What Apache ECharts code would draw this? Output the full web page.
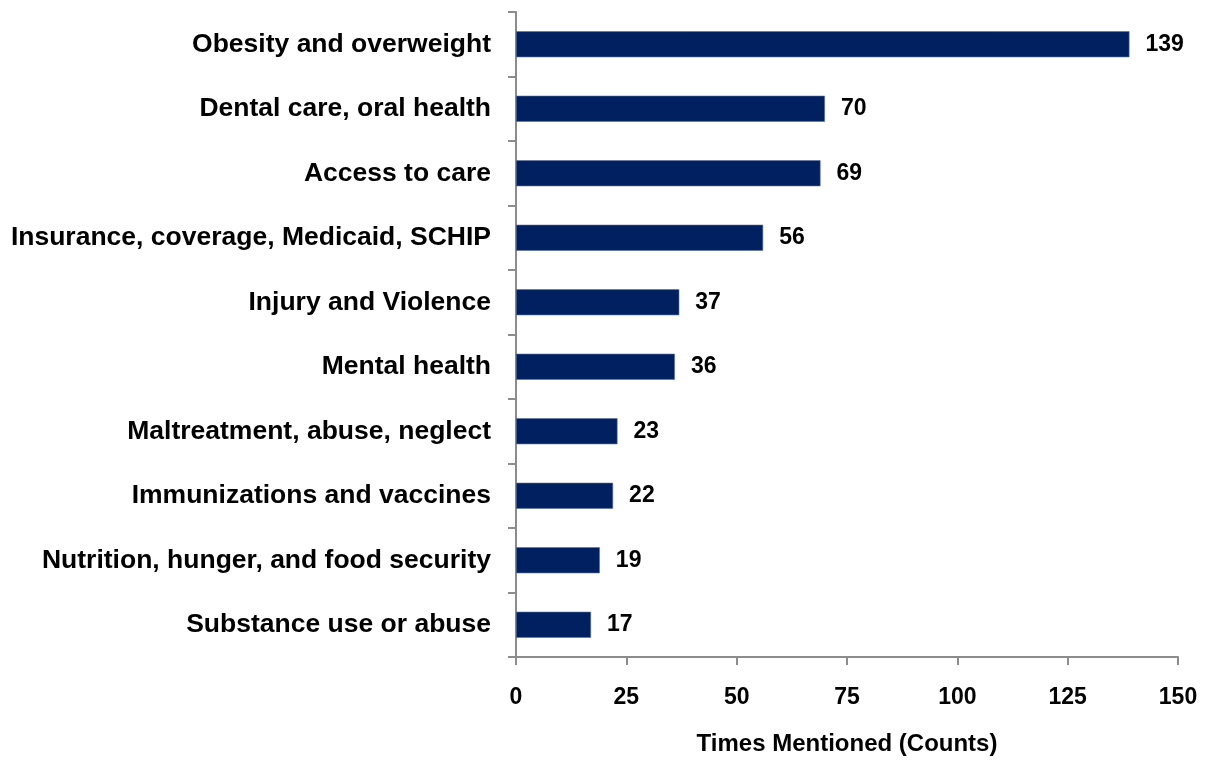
<!DOCTYPE html>
<html><head><meta charset="utf-8">
<script src="https://cdn.jsdelivr.net/npm/echarts@6/dist/echarts.min.js"></script>
<style>html,body{margin:0;padding:0;background:#fff}#c{width:1207px;height:761px}</style>
</head><body><div id="c"></div>
<script>
const categories = ["Obesity and overweight","Dental care, oral health","Access to care","Insurance, coverage, Medicaid, SCHIP","Injury and Violence","Mental health","Maltreatment, abuse, neglect","Immunizations and vaccines","Nutrition, hunger, and food security","Substance use or abuse"];
const counts = [139,70,69,56,37,36,23,22,19,17];
const xTicks = [0,25,50,75,100,125,150];
const chart = echarts.init(document.getElementById('c'));
const font = 'Liberation Sans, Arial, sans-serif';
chart.setOption({
  animation:false,
  grid:{left:516,right:29,top:12,bottom:97,containLabel:false},
  xAxis:{type:'value',min:xTicks[0],max:xTicks[xTicks.length-1],interval:25,
    name:'Times Mentioned (Counts)',nameLocation:'middle',nameGap:75,
    nameTextStyle:{fontFamily:font,fontWeight:'bold',fontSize:24,color:'#000'},
    axisLine:{show:true,lineStyle:{color:'#8c8c8c',width:2}},
    axisTick:{show:true,length:8,lineStyle:{color:'#8c8c8c',width:2}},
    axisLabel:{fontFamily:font,fontWeight:'bold',fontSize:23,color:'#000',margin:29},
    splitLine:{show:false}},
  yAxis:{type:'category',data:categories,inverse:true,
    axisLine:{show:true,lineStyle:{color:'#8c8c8c',width:2}},
    axisTick:{show:true,length:8,alignWithLabel:false,lineStyle:{color:'#8c8c8c',width:2}},
    axisLabel:{fontFamily:font,fontWeight:'bold',fontSize:26.5,color:'#000',margin:25}},
  series:[{type:'bar',data:counts,barWidth:26,
    itemStyle:{color:'#002060',borderColor:'#5a6f9a',borderWidth:0.6},
    label:{show:true,position:'right',distance:16,fontFamily:font,fontWeight:'bold',fontSize:23,color:'#000'}}]
});
</script></body></html>
